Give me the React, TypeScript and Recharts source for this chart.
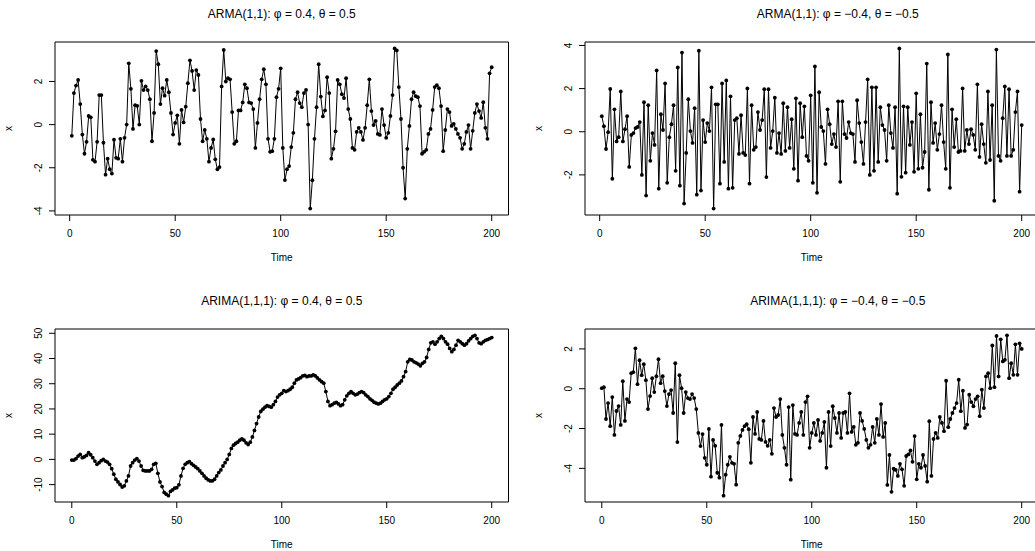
import React from "react";
import { LineChart, Line, XAxis, YAxis, ReferenceArea } from "recharts";

// ARMA(1,1), phi = 0.4, theta = 0.5  (t = 1..200)
const armaPos = [
  -0.52, 1.46, 1.81, 2.07, 0.95, -0.46, -1.35, -0.8, 0.4, 0.34,
  -1.63, -1.72, -0.8, 1.37, 1.37, -0.84, -2.32, -1.58, -2.07, -2.27,
  -0.7, -1.54, -1.58, -0.66, -1.72, -0.61, 0, 2.84, 1.66, -0.2,
  0.9, 0.87, 0, 2.03, 1.6, 1.77, 1.6, 1.18, -0.77, 0.54,
  3.41, 2.8, 0.95, 1.69, 1.34, 2.07, 1.5, 0.54, -0.46, 0.08,
  0.43, -0.89, 0.68, 0.1, 0.83, 1.92, 2.98, 2.49, 1.6, 2.53,
  2.3, 0.26, -0.77, -0.25, -0.66, -1.72, -1.08, -0.69, -1.61, -2.07,
  -1.97, 1.77, 3.46, 2.0, 2.15, 2.1, 0.58, -0.89, -0.77, 0.66,
  0.66, 1.03, 1.87, 1.69, 1.03, 1.0, 0.72, -1.08, 0.08, 1.18,
  2.1, 2.57, 1.87, -0.66, -1.26, -1.23, -0.66, 1.27, 1.66, 2.61,
  -1.08, -2.57, -2.07, -1.92, -1.04, -0.38, 1.18, 1.5, 1.0, 0.81,
  1.46, 1.61, 0, -3.89, -2.58, -0.66, 0.81, 2.8, 1.3, 0.38,
  0.66, 2.2, 1.46, -1.58, -1.12, -0.31, 2.07, 1.87, 1.41, 1.23,
  2.15, 0.72, 0.26, -1.08, -1.17, -0.34, -0.15, -0.34, -0.71, -0.15,
  0.9, 2.1, 0.63, -0.02, 0.17, -0.43, -0.48, 0.72, -0.02, -0.61,
  -0.38, 0.4, 1.37, 3.53, 3.44, 1.74, 0.26, -2.0, -3.43, -1.12,
  -0.06, 1.18, 1.5, 1.32, 1.27, 0.86, -1.35, -1.26, -1.17, -0.43,
  -0.2, 0.68, 1.74, 1.83, 1.69, 0.86, -1.23, -0.25, 0.72, 0.58,
  -0.06, 0.03, -0.2, -0.43, -0.61, -1.12, -0.89, -0.34, -0.02, -1.12,
  -0.29, 0.54, 0.95, 0.63, 0.31, 1.04, -0.15, -0.66, 2.38, 2.66,
];

// ARMA(1,1), phi = -0.4, theta = -0.5  (t = 1..200)
const armaNeg = [
  0.72, 0.26, -0.8, -0.02, 1.98, -2.18, 1.04, -0.45, -0.25, 1.87,
  -0.45, 0.12, 0.72, -1.63, -0.15, -0.06, 0.17, 0.22, 0.45, -2.0,
  1.37, -2.96, 1.23, -1.35, -0.06, -0.61, 2.84, -2.64, 0.81, 0.08,
  2.24, -2.37, -0.25, 0.35, 1.23, -1.81, 2.98, -2.5, 3.67, -3.33,
  -0.98, 1.51, 0.03, -0.52, 1.09, -2.92, 3.76, -2.73, 0.54, -0.48,
  0.4, 0.03, 2.06, -3.56, 1.27, 1.27, -2.41, 2.24, -1.4, 2.38,
  -2.64, 1.64, -2.6, 0.54, 0.63, -1.03, 0.77, -0.98, -1.08, 2.01,
  -2.41, 1.23, -0.84, -0.71, 0.91, 0.08, 0.54, 1.97, -2.1, 1.97,
  -0.75, 0.03, 1.58, -0.98, -0.06, -1.03, 1.32, -0.89, 1.14, -0.75,
  0.58, -1.72, 1.55, -2.27, 1.32, -0.25, 1.18, -1.12, -1.35, 1.69,
  -2.37, 3.03, -2.83, 1.83, 0.22, 0.03, -1.49, 1.04, 0.35, -0.57,
  -0.11, -0.71, 1.41, -2.32, 1.41, -0.11, -0.29, 0.45, -0.06, -0.11,
  -1.4, 1.46, 0.4, -0.48, -1.49, 0.45, 2.43, -2.0, 2.06, -1.81,
  2.06, -1.4, 1.14, 0.31, 0.08, -1.35, 1.23, -0.06, -0.75, 1.14,
  -2.87, 3.86, -2.09, 1.18, -1.9, 1.14, -0.61, 0.45, -1.86, 1.78,
  -1.72, 0.81, -1.67, -0.94, 3.16, -2.69, 1.37, -0.52, 0.4, -0.84,
  -0.11, 1.23, -0.48, -1.72, 3.58, -2.6, 1.04, -0.71, 0.58, -0.94,
  -0.89, 2.01, -0.89, 0.08, -0.57, 0.12, -0.15, -0.84, 2.2, -1.17,
  0.35, -0.57, -1.44, 1.87, -1.31, 1.23, -3.2, 3.81, -1.12, -1.35,
  0.63, 2.1, -1.12, 1.97, -1.12, -0.84, 0.91, 1.87, -2.78, 0.31,
];

// ARIMA(1,1,1), phi = 0.4, theta = 0.5  (t = 0..200)
const arimaPos = [
  -0.26, -0.26, 0.26, 1.31, 1.97, 0.66, 1.05, 1.57, 2.62, 1.84,
  0.66, -0.66, -1.97, -1.31, -0.52, 0, -0.66, -1.05, -1.97, -3.67,
  -5.9, -7.87, -8.92, -9.97, -11.0, -10.5, -8.53, -6.56, -2.62, -1.31,
  -0.26, 0.26, -0.66, -2.62, -4.33, -4.59, -4.59, -4.59, -3.94, -1.97,
  -1.57, -5.51, -8.92, -10.8, -13.1, -13.8, -14.4, -12.7, -12.1, -11.4,
  -11.2, -10.1, -6.56, -3.54, -1.97, -1.31, -0.92, -1.71, -2.36, -3.02,
  -3.67, -4.59, -5.51, -6.56, -7.48, -8.14, -8.53, -8.5, -7.87, -6.56,
  -5.25, -4.2, -2.62, -1.31, 0, 1.97, 4.33, 5.64, 6.3, 6.82,
  7.61, 8.14, 7.61, 6.56, 5.91, 6.82, 8.92, 11.5, 14.2, 16.8,
  19.0, 19.9, 20.7, 21.3, 21.0, 20.7, 21.7, 23.0, 24.7, 25.6,
  26.2, 27.3, 26.9, 27.3, 27.8, 28.6, 30.2, 31.5, 31.9, 32.4,
  33.1, 33.3, 32.8, 33.1, 33.1, 33.5, 33.1, 32.3, 31.5, 30.8,
  30.2, 26.9, 23.0, 21.3, 21.7, 22.3, 22.6, 22.0, 21.3, 21.7,
  23.6, 25.2, 26.2, 26.9, 26.2, 25.6, 25.9, 26.5, 26.9, 26.5,
  25.6, 24.9, 24.0, 23.4, 22.7, 22.3, 22.0, 22.3, 23.0, 23.6,
  24.0, 24.9, 26.2, 27.8, 28.6, 29.5, 30.2, 31.1, 32.8, 34.8,
  38.7, 39.6, 39.4, 38.7, 38.3, 37.8, 37.1, 38.1, 38.7, 40.4,
  43.6, 46.2, 46.6, 45.7, 46.6, 47.9, 48.8, 47.9, 46.6, 45.7,
  44.0, 42.7, 43.6, 45.3, 47.2, 46.6, 45.9, 45.3, 45.9, 47.0,
  47.9, 48.8, 49.2, 47.9, 46.2, 45.9, 46.6, 47.2, 47.5, 47.9,
  48.3,
];

// ARIMA(1,1,1), phi = -0.4, theta = -0.5  (t = 0..200)
const arimaNeg = [
  0.03, 0.08, -1.52, -0.72, -1.88, -0.42, -2.32, -1.12, -0.87, -1.82,
  0.38, -1.62, -0.52, -0.67, 0.78, 0.83, 2.03, 0.23, 1.43, 0.68,
  1.23, 0.43, -1.02, -0.37, 0.53, -0.17, 0.63, 1.48, 0.28, 0.63,
  -0.12, -0.87, -0.27, -0.07, -1.22, 1.28, -2.68, 0.68, 0.03, -1.22,
  -0.17, -0.47, -0.52, -0.27, -0.47, -1.02, -2.22, -2.88, -2.28, -3.47,
  -3.82, -2.02, -4.42, -2.57, -2.87, -4.22, -4.47, -1.82, -5.37, -4.32,
  -3.82, -3.42, -3.72, -3.77, -4.82, -2.72, -2.37, -2.07, -1.88, -1.78,
  -2.03, -3.72, -1.42, -2.27, -1.17, -2.52, -2.57, -1.62, -2.67, -2.87,
  -2.57, -3.27, -0.97, -1.42, -1.32, -0.52, -2.32, -2.97, -3.82, -0.92,
  -4.57, -0.82, -2.27, -2.32, -1.72, -1.17, -2.32, -0.67, -0.38, -2.97,
  -2.22, -1.72, -2.32, -1.57, -2.62, -2.22, -1.67, -3.97, -1.17, -2.88,
  -0.88, -1.47, -2.22, -1.22, -2.47, -1.22, -1.17, -2.22, -0.23, -2.17,
  -1.92, -2.82, -2.72, -1.22, -1.62, -2.02, -2.57, -2.97, -2.82, -1.92,
  -2.72, -1.52, -2.32, -0.77, -2.42, -1.72, -4.83, -3.33, -5.18, -4.02,
  -4.08, -4.38, -3.77, -4.05, -4.88, -3.38, -3.3, -3.1, -3.67, -2.38,
  -4.55, -3.77, -3.97, -3.33, -3.88, -4.67, -1.63, -4.38, -2.52, -2.22,
  -2.47, -1.42, -1.72, -2.13, 0.4, -1.93, -1.52, -1.22, -0.97, -0.72,
  0.45, -1.13, -0.1, -1.97, -1.8, -0.3, -0.67, -0.88, -0.52, -0.38,
  -1.38, -0.05, -0.97, 0.62, 0.78, 0.03, 2.17, 0.08, 2.65, 0.62,
  2.48, 1.37, 1.45, 2.68, 0.53, 1.28, 0.7, 2.23, 0.7, 2.28,
  2.0,
];

const timeTicks = [0, 50, 100, 150, 200];

const FONT = "'Liberation Sans', Arial, Helvetica, sans-serif";

function toRows(values: number[], start: number) {
  return values.map((x, i) => ({ t: start + i, x }));
}

function YTick(props: any) {
  const { x, y, payload } = props;
  return (
    <text
      x={x}
      y={y}
      transform={`rotate(-90 ${x} ${y})`}
      textAnchor="middle"
      fontSize={10}
      fontFamily={FONT}
      fill="#000"
    >
      {payload.value}
    </text>
  );
}

type PanelProps = {
  title: string;
  values: number[];
  start: number;
  xDomain: [number, number];
  yDomain: [number, number];
  yTicks: number[];
  left: number;
  top: number;
  titleShift?: number;
};

const W = 517;
const H = 275;
const YW = 30;
const XH = 30;

function Panel({ title, values, start, xDomain, yDomain, yTicks, left, top, titleShift = 0 }: PanelProps) {
  const data = toRows(values, start);
  // plot box inside the panel
  const box = { l: 55, t: top === 0 ? 42 : 53, r: 508.5, b: top === 0 ? 215 : 226 };
  const margin = {
    left: box.l - YW,
    top: box.t,
    right: W - box.r,
    bottom: H - box.b - XH,
  };
  const cx = (box.l + box.r) / 2;
  return (
    <div style={{ position: "absolute", left, top, width: W, height: H }}>
      <LineChart width={W} height={H} data={data} margin={margin}>
        <XAxis
          dataKey="t"
          type="number"
          domain={xDomain}
          ticks={timeTicks}
          allowDataOverflow
          height={XH}
          axisLine={false}
          tickSize={6}
          tickMargin={9}
          tickLine={{ stroke: "#000" }}
          tick={{ fontSize: 10, fontFamily: FONT, fill: "#000" }}
        />
        <YAxis
          type="number"
          domain={yDomain}
          ticks={yTicks}
          allowDataOverflow
          width={YW}
          axisLine={false}
          tickSize={6}
          tickMargin={7}
          tickLine={{ stroke: "#000" }}
          tick={<YTick />}
        />
        <ReferenceArea
          x1={xDomain[0]}
          x2={xDomain[1]}
          y1={yDomain[0]}
          y2={yDomain[1]}
          fill="none"
          stroke="#000"
          strokeWidth={1}
          ifOverflow="visible"
        />
        <Line
          dataKey="x"
          stroke="#000"
          strokeWidth={1}
          dot={{ r: 1.9, fill: "#000", stroke: "none" }}
          activeDot={false}
          isAnimationActive={false}
        />
      </LineChart>
      <div
        style={{
          position: "absolute",
          left: cx + titleShift - 200,
          width: 400,
          top: box.t - 35,
          textAlign: "center",
          fontFamily: FONT,
          fontSize: 12,
        }}
      >
        {title}
      </div>
      <div
        style={{
          position: "absolute",
          left: cx - 50,
          width: 100,
          top: box.b + 37,
          textAlign: "center",
          fontFamily: FONT,
          fontSize: 10,
        }}
      >
        Time
      </div>
      <div
        style={{
          position: "absolute",
          left: 6,
          top: (box.t + box.b) / 2 - 6,
          transform: "rotate(-90deg)",
          fontFamily: FONT,
          fontSize: 10,
        }}
      >
        x
      </div>
    </div>
  );
}

export default function App() {
  return (
    <div
      style={{
        position: "absolute",
        left: 0,
        top: 0,
        width: 1035,
        height: 551,
        overflow: "hidden",
        background: "#fff",
      }}
    >
      <Panel
        title="ARMA(1,1): φ = 0.4, θ = 0.5"
        values={armaPos}
        start={1}
        xDomain={[-6.96, 207.96]}
        yDomain={[-4.19, 3.83]}
        yTicks={[-4, -2, 0, 2]}
        left={0}
        top={0}
      />
      <Panel
        title="ARMA(1,1): φ = −0.4, θ = −0.5"
        values={armaNeg}
        start={1}
        xDomain={[-6.96, 207.96]}
        yDomain={[-3.86, 4.16]}
        yTicks={[-2, 0, 2, 4]}
        left={530}
        top={0}
        titleShift={26}
      />
      <Panel
        title="ARIMA(1,1,1): φ = 0.4, θ = 0.5"
        values={arimaPos}
        start={0}
        xDomain={[-8, 208]}
        yDomain={[-16.9, 51.7]}
        yTicks={[-10, 0, 10, 20, 30, 40, 50]}
        left={0}
        top={276}
      />
      <Panel
        title="ARIMA(1,1,1): φ = −0.4, θ = −0.5"
        values={arimaNeg}
        start={0}
        xDomain={[-8, 208]}
        yDomain={[-5.69, 3.0]}
        yTicks={[-4, -2, 0, 2]}
        left={530}
        top={276}
        titleShift={26}
      />
    </div>
  );
}
